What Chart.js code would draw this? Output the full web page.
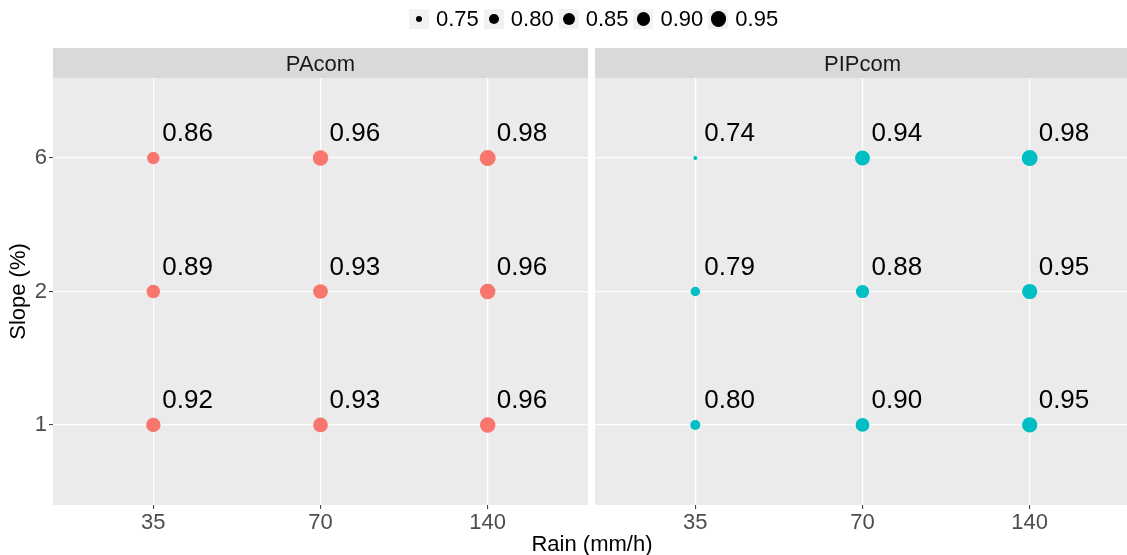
<!DOCTYPE html>
<html>
<head>
<meta charset="utf-8">
<script src="https://cdn.jsdelivr.net/npm/chart.js@4.4.0/dist/chart.umd.min.js"></script>
<style>
  body { margin: 0; background: #fff; font-family: "Liberation Sans", Arial, sans-serif; }
  #wrap { position: relative; width: 1127px; height: 555px; overflow: hidden; }
  canvas { position: absolute; top: 0; }
  #legend { position: absolute; top: 9px; left: 409px; display: flex; align-items: center; height: 20px; }
  .key { width: 20px; height: 20px; background: #f2f2f2; display: flex; align-items: center; justify-content: center; }
  .dot { background: #000; border-radius: 50%; }
  .lab { font-size: 22px; line-height: 20px; margin: 0 5px 0 7px; color: #000; }
  #xtitle { position: absolute; left: 0; width: 1184px; top: 533px; text-align: center; font-size: 22px; line-height: 22px; color: #000; }
</style>
</head>
<body>
<div id="wrap">
  <canvas id="left" width="588" height="555" style="left:0"></canvas>
  <canvas id="right" width="535" height="555" style="left:595px"></canvas>
  <div id="legend"></div>
  <div id="xtitle">Rain (mm/h)</div>
</div>
<script>
// categories
const rainLabels = ['35', '70', '140'];
const slopeLabels = ['1', '2', '6'];
const panels = ['PAcom', 'PIPcom'];

// values, one row per slope (1, 2, 6), columns follow rainLabels
const paValues = [
  [0.92, 0.93, 0.96],
  [0.89, 0.93, 0.96],
  [0.86, 0.96, 0.98]
];
const pipValues = [
  [0.80, 0.90, 0.95],
  [0.79, 0.88, 0.95],
  [0.74, 0.94, 0.98]
];

// size legend breaks
const sizeBreaks = [0.75, 0.80, 0.85, 0.90, 0.95];
const sizeMin = 0.74, sizeMax = 0.98;

const FONT = '"Liberation Sans", Arial, sans-serif';

// area-like size scale, returns radius in px
function radius(v) {
  const t = Math.max(0, (v - sizeMin) / (sizeMax - sizeMin));
  return (4 + 12 * Math.sqrt(t)) / 2;
}

function makePoints(values) {
  const pts = [];
  values.forEach((row, yi) => {
    row.forEach((v, xi) => {
      pts.push({ x: xi + 1, y: yi + 1, r: radius(v), v: v });
    });
  });
  return pts;
}

// panel background, strip and value labels
const panelPlugin = {
  id: 'panel',
  beforeDraw(chart) {
    const { ctx, chartArea: a } = chart;
    ctx.save();
    ctx.fillStyle = '#ebebeb';
    ctx.fillRect(a.left, a.top, a.right - a.left, a.bottom - a.top);
    ctx.fillStyle = '#d9d9d9';
    ctx.fillRect(a.left, a.top - 30, a.right - a.left, 30);
    ctx.fillStyle = '#1a1a1a';
    ctx.font = '22px ' + FONT;
    ctx.textAlign = 'center';
    ctx.textBaseline = 'alphabetic';
    ctx.fillText(chart.options.plugins.panel.title, (a.left + a.right) / 2, a.top - 7);
    ctx.restore();
  },
  afterDatasetsDraw(chart) {
    const { ctx } = chart;
    const meta = chart.getDatasetMeta(0);
    const data = chart.data.datasets[0].data;
    ctx.save();
    ctx.fillStyle = '#000';
    ctx.font = '26px ' + FONT;
    ctx.textAlign = 'left';
    ctx.textBaseline = 'alphabetic';
    meta.data.forEach((el, i) => {
      ctx.fillText(data[i].v.toFixed(2), el.x + 9, el.y - 17);
    });
    ctx.restore();
  }
};

function fixTicks(scale) {
  scale.ticks = [{ value: 1 }, { value: 2 }, { value: 3 }];
}

function makeChart(id, title, values, color, showY) {
  return new Chart(document.getElementById(id), {
    type: 'bubble',
    data: {
      datasets: [{
        data: makePoints(values),
        backgroundColor: color,
        borderWidth: 0,
        hoverRadius: 0
      }]
    },
    options: {
      responsive: false,
      animation: false,
      devicePixelRatio: 1,
      events: [],
      layout: { autoPadding: false, padding: { top: 78, left: 0, right: 0, bottom: 0 } },
      plugins: {
        legend: { display: false },
        tooltip: { enabled: false },
        panel: { title: title }
      },
      scales: {
        x: {
          type: 'linear',
          min: 0.4,
          max: 3.6,
          afterBuildTicks: fixTicks,
          afterFit(s) {
            s.height = 50;
            s.paddingLeft = 0;
            s.paddingRight = 0;
          },
          border: { display: false },
          grid: { color: '#ffffff', lineWidth: 1.2, tickColor: '#333333', tickLength: 4, tickWidth: 1 },
          ticks: {
            autoSkip: false,
            maxRotation: 0,
            padding: 1,
            color: '#4d4d4d',
            font: { family: FONT, size: 22 },
            callback: v => rainLabels[v - 1]
          }
        },
        y: {
          type: 'linear',
          min: 0.4,
          max: 3.6,
          afterBuildTicks: fixTicks,
          afterFit(s) {
            s.width = showY ? 53 : 0;
            s.paddingTop = 0;
            s.paddingBottom = 0;
          },
          border: { display: false },
          grid: { color: '#ffffff', lineWidth: 1.2, tickColor: '#333333', tickLength: 4, tickWidth: 1, drawTicks: showY },
          title: {
            display: showY,
            text: 'Slope (%)',
            color: '#000',
            font: { family: FONT, size: 22 },
            padding: { top: 6, bottom: 0 }
          },
          ticks: {
            display: showY,
            autoSkip: false,
            padding: 2,
            color: '#4d4d4d',
            font: { family: FONT, size: 22 },
            callback: v => slopeLabels[v - 1]
          }
        }
      }
    },
    plugins: [panelPlugin]
  });
}

makeChart('left', panels[0], paValues, '#F8766D', true);
makeChart('right', panels[1], pipValues, '#00BFC4', false);

// size legend
const legend = document.getElementById('legend');
sizeBreaks.forEach(b => {
  const key = document.createElement('span');
  key.className = 'key';
  const dot = document.createElement('span');
  dot.className = 'dot';
  const d = radius(b) * 2;
  dot.style.width = d + 'px';
  dot.style.height = d + 'px';
  key.appendChild(dot);
  const lab = document.createElement('span');
  lab.className = 'lab';
  lab.textContent = b.toFixed(2);
  legend.appendChild(key);
  legend.appendChild(lab);
});
</script>
</body>
</html>
